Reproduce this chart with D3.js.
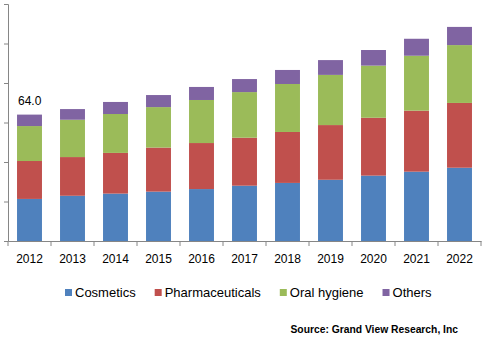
<!DOCTYPE html>
<html>
<head>
<meta charset="utf-8">
<script src="https://cdn.jsdelivr.net/npm/d3@7"></script>
<style>
  body { margin: 0; background: #fff; }
  svg { display: block; font-family: "Liberation Sans", Arial, sans-serif; }
  .axis path, .axis line { stroke: #868686; }
</style>
</head>
<body>
<div id="chart"></div>
<script>
// data (USD billion, stacked)
const years = ["2012", "2013", "2014", "2015", "2016", "2017", "2018", "2019", "2020", "2021", "2022"];
const seriesNames = ["Cosmetics", "Pharmaceuticals", "Oral hygiene", "Others"];
const cosmetics = [21.3, 22.9, 24.0, 25.0, 26.3, 28.0, 29.4, 31.0, 33.1, 35.1, 37.1];
const pharmaceuticals = [19.2, 19.6, 20.6, 22.3, 23.3, 24.3, 25.8, 27.7, 29.3, 30.9, 32.8];
const oralHygiene = [17.7, 18.9, 19.7, 20.5, 21.8, 23.1, 24.3, 25.4, 26.4, 27.8, 29.3];
const others = [5.8, 5.4, 6.1, 6.1, 6.6, 6.6, 7.1, 7.5, 7.9, 8.6, 9.2];
const yTicks = [0, 20, 40, 60, 80, 100, 120];
const annotation = { year: "2012", text: "64.0" };

const colors = ["#4F81BD", "#C0504D", "#9BBB59", "#8064A2"];

const width = 485, height = 350;
const svg = d3.select("#chart").append("svg")
    .attr("width", width)
    .attr("height", height);

// build table for d3.stack
const table = years.map((y, i) => ({
    year: y,
    "Cosmetics": cosmetics[i],
    "Pharmaceuticals": pharmaceuticals[i],
    "Oral hygiene": oralHygiene[i],
    "Others": others[i]
}));
const stacked = d3.stack().keys(seriesNames)(table);

const x = d3.scaleBand()
    .domain(years)
    .range([8, 481])
    .paddingInner(0.42)
    .paddingOuter(0.21);

const y = d3.scaleLinear()
    .domain([0, 120])
    .range([241, 4]);

// bars
svg.append("g").selectAll("g")
    .data(stacked)
    .join("g")
    .attr("fill", (d, i) => colors[i])
    .selectAll("rect")
    .data(d => d)
    .join("rect")
    .attr("x", d => x(d.data.year))
    .attr("y", d => y(d[1]))
    .attr("width", x.bandwidth())
    .attr("height", d => y(d[0]) - y(d[1]));

// y axis, ticks without labels
svg.append("g")
    .attr("class", "axis")
    .attr("transform", "translate(8,0)")
    .call(d3.axisLeft(y).tickValues(yTicks).tickSize(4).tickSizeOuter(4).tickFormat(""))
    .call(g => g.selectAll("text").remove());

// x axis: labels centred, ticks at band boundaries
const xAxis = svg.append("g")
    .attr("class", "axis")
    .attr("transform", "translate(0,241)")
    .call(d3.axisBottom(x).tickSize(0).tickSizeOuter(0).tickPadding(13));
xAxis.selectAll("text")
    .attr("font-size", 12)
    .attr("font-family", "Liberation Sans, Arial, sans-serif")
    .attr("fill", "#000");
const step = x.step();
const bounds = d3.range(years.length + 1).map(i => x.range()[0] + i * step);
xAxis.selectAll(".bound")
    .data(bounds)
    .join("line")
    .attr("class", "bound")
    .attr("x1", d => d).attr("x2", d => d)
    .attr("y1", 0).attr("y2", 5)
    .attr("stroke", "#868686");

// total label above the first bar
const annIdx = years.indexOf(annotation.year);
const annTotal = stacked[stacked.length - 1][annIdx][1];
svg.append("text")
    .attr("x", x(annotation.year) + 1)
    .attr("y", y(annTotal) - 10)
    .attr("font-size", 12)
    .attr("fill", "#000")
    .text(annotation.text);

// legend
const legend = svg.append("g").attr("transform", "translate(0,297)");
let lx = 65;
seriesNames.forEach((name, i) => {
    legend.append("rect")
        .attr("x", lx).attr("y", -8)
        .attr("width", 7).attr("height", 7)
        .attr("fill", colors[i]);
    const t = legend.append("text")
        .attr("x", lx + 10)
        .attr("y", 0)
        .attr("font-size", 13)
        .attr("fill", "#000")
        .text(name);
    lx += 10 + t.node().getComputedTextLength() + 19;
});

// source note
svg.append("text")
    .attr("x", 458)
    .attr("y", 333)
    .attr("text-anchor", "end")
    .attr("font-size", 10.3)
    .attr("font-weight", "bold")
    .attr("fill", "#000")
    .text("Source: Grand View Research, Inc");
</script>
</body>
</html>
